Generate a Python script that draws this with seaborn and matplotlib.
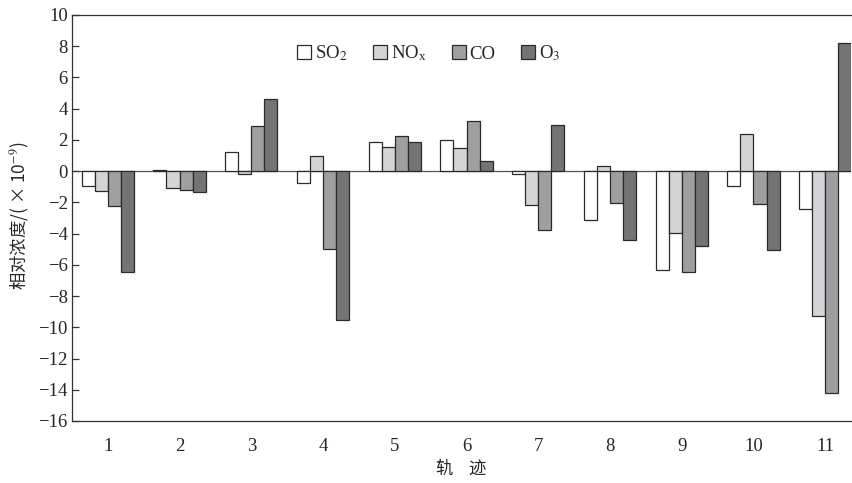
import matplotlib
matplotlib.use("Agg")
import matplotlib.pyplot as plt
import seaborn as sns
import pandas as pd
import numpy as np
from matplotlib.ticker import FixedLocator, MultipleLocator

tracks = ["1", "2", "3", "4", "5", "6", "7", "8", "9", "10", "11"]
so2 = [-0.95, 0.08, 1.2, -0.73, 1.84, 1.99, -0.21, -3.12, -6.35, -0.96, -2.44]
nox = [-1.26, -1.11, -0.21, 0.98, 1.56, 1.5, -2.16, 0.36, -3.93, 2.35, -9.25]
co = [-2.22, -1.2, 2.88, -5.0, 2.22, 3.18, -3.78, -2.07, -6.45, -2.12, -14.2]
o3 = [-6.45, -1.35, 4.6, -9.55, 1.84, 0.66, 2.95, -4.42, -4.81, -5.04, 8.2]
series_names = [r"SO$_2$", r"NO$_\mathregular{x}$", "CO", r"O$_3$"]
colors = ["#ffffff", "#d3d4d6", "#9e9fa3", "#737478"]

sns.set_theme(style="white")
plt.rcParams["font.family"] = ["Liberation Serif", "Noto Sans CJK SC"]
plt.rcParams["mathtext.fontset"] = "stix"

rows = []
for name, vals in zip(series_names, [so2, nox, co, o3]):
    for t, v in zip(tracks, vals):
        rows.append({"track": t, "series": name, "value": v})
df = pd.DataFrame(rows)

fig = plt.figure(figsize=(8.52, 4.83), dpi=100)
ax = fig.add_axes([0.0845, 0.1284, 0.9143, 0.8406])

sns.barplot(data=df, x="track", y="value", hue="series", order=tracks,
            hue_order=series_names, palette=colors, width=0.73, gap=0,
            edgecolor="#2a2a2a", linewidth=0.9, ax=ax, errorbar=None)

ax.axhline(0, color="#555555", lw=0.9, zorder=0.5)
ax.set_ylim(-16, 10)
ax.set_xlim(-0.5, 10.36)
ax.yaxis.set_major_locator(MultipleLocator(2))
ax.set_yticklabels([f"{int(v)}".replace("-", "\u2212") for v in ax.get_yticks()])

ax.tick_params(axis="x", which="major", length=0, pad=12, labelsize=13.5)
ax.xaxis.set_minor_locator(FixedLocator(np.arange(0.5, 10.5, 1.0)))
ax.tick_params(axis="x", which="minor", direction="in", length=7, width=0.9, color="#333333")
ax.tick_params(axis="y", direction="in", length=5, width=0.9, color="#333333", labelsize=13.5, pad=3, left=True)

for s in ["left", "top", "bottom"]:
    ax.spines[s].set_color("#333333")
    ax.spines[s].set_linewidth(0.9)
ax.spines["right"].set_visible(False)

ax.set_xlabel("轨    迹", family=["Noto Sans CJK SC"], fontsize=12.5, labelpad=4)
ax.set_ylabel("相对浓度/( × 10$^{-9}$)", family=["Noto Sans CJK SC", "Liberation Serif"], fontsize=12.5)
ax.yaxis.set_label_coords(-0.052, 0.505)

leg = ax.legend(loc="center", bbox_to_anchor=(0.458, 0.905), ncol=4, frameon=False,
                fontsize=13.5, handlelength=0.75, handleheight=0.75, handletextpad=0.2,
                columnspacing=1.35)
for h in leg.legend_handles:
    h.set_edgecolor("#2a2a2a")
    h.set_linewidth(0.9)

fig.savefig("out.png", dpi=100)
